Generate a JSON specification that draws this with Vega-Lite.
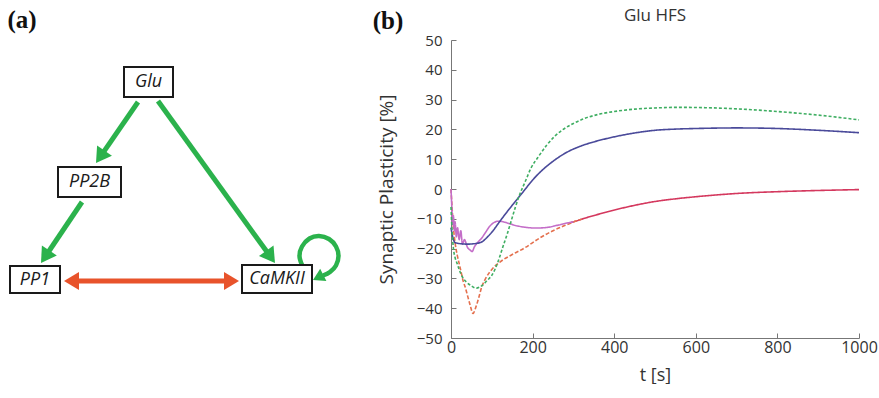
{
  "$schema": "https://vega.github.io/schema/vega-lite/v6.json",
  "background": "white",
  "padding": 0,
  "bounds": "flush",
  "spacing": 0,
  "config": {"view": {"stroke": null}, "font": "Open Sans"},
  "hconcat": [
    {
      "width": 451,
      "height": 298,
      "layer": [
        {
          "data": {"values": [{"x1": 0, "x2": 451, "y1": 0, "y2": 40}]},
          "mark": {"type": "rect", "fill": "white", "opacity": 0},
          "encoding": {
            "x": {"field": "x1", "type": "quantitative", "scale": {"domain": [0, 451], "nice": false, "zero": false}, "axis": null},
            "x2": {"field": "x2"},
            "y": {"field": "y1", "type": "quantitative", "scale": {"domain": [40, 338], "reverse": true, "nice": false, "zero": false}, "axis": null},
            "y2": {"field": "y2"}
          }
        },
        {
          "data": {"values": [
            {"id": "a1", "o": 0, "x": 138, "y": 102, "c": "#2bb24c"},
            {"id": "a1", "o": 1, "x": 102.8, "y": 153.1, "c": "#2bb24c"},
            {"id": "a2", "o": 0, "x": 158, "y": 101, "c": "#2bb24c"},
            {"id": "a2", "o": 1, "x": 268, "y": 253.3, "c": "#2bb24c"},
            {"id": "a3", "o": 0, "x": 82, "y": 202, "c": "#2bb24c"},
            {"id": "a3", "o": 1, "x": 47.7, "y": 253, "c": "#2bb24c"},
            {"id": "a4", "o": 0, "x": 76, "y": 281, "c": "#e8532b"},
            {"id": "a4", "o": 1, "x": 227, "y": 281, "c": "#e8532b"}
          ]},
          "mark": {"type": "line", "strokeWidth": 5, "strokeCap": "butt"},
          "encoding": {
            "x": {"field": "x", "type": "quantitative", "axis": null},
            "y": {"field": "y", "type": "quantitative", "axis": null},
            "detail": {"field": "id"},
            "order": {"field": "o", "type": "quantitative"},
            "color": {"field": "c", "type": "nominal", "scale": null}
          }
        },
        {
          "data": {"values": [
            {"o": 0, "x": 302, "y": 265},
            {"o": 1, "x": 299.5, "y": 256},
            {"o": 2, "x": 302, "y": 246.5},
            {"o": 3, "x": 309.5, "y": 238.5},
            {"o": 4, "x": 319, "y": 236},
            {"o": 5, "x": 329, "y": 239},
            {"o": 6, "x": 336, "y": 246.5},
            {"o": 7, "x": 338.5, "y": 256},
            {"o": 8, "x": 336, "y": 265.5},
            {"o": 9, "x": 330, "y": 272},
            {"o": 10, "x": 323, "y": 275.5}
          ]},
          "mark": {"type": "line", "strokeWidth": 4.5, "color": "#2bb24c", "interpolate": "cardinal", "strokeCap": "butt"},
          "encoding": {
            "x": {"field": "x", "type": "quantitative", "axis": null},
            "y": {"field": "y", "type": "quantitative", "axis": null},
            "order": {"field": "o", "type": "quantitative"}
          }
        },
        {
          "data": {"values": [
            {"x": 96, "y": 163, "ang": 124.6, "c": "#2bb24c", "sz": 900},
            {"x": 275, "y": 263, "ang": 54.2, "c": "#2bb24c", "sz": 900},
            {"x": 41, "y": 263, "ang": 123.9, "c": "#2bb24c", "sz": 900},
            {"x": 64, "y": 281, "ang": 180, "c": "#e8532b", "sz": 900},
            {"x": 239, "y": 281, "ang": 0, "c": "#e8532b", "sz": 900},
            {"x": 313, "y": 280, "ang": 153.4, "c": "#2bb24c", "sz": 529}
          ]},
          "mark": {"type": "point", "filled": true, "opacity": 1, "strokeWidth": 0, "shape": "M0,0L-1,-0.6L-1,0.6Z"},
          "encoding": {
            "x": {"field": "x", "type": "quantitative", "axis": null},
            "y": {"field": "y", "type": "quantitative", "axis": null},
            "angle": {"field": "ang", "type": "quantitative", "scale": null},
            "size": {"field": "sz", "type": "quantitative", "scale": null},
            "color": {"field": "c", "type": "nominal", "scale": null}
          }
        },
        {
          "data": {"values": [
            {"label": "Glu", "x1": 124, "x2": 173, "y1": 67, "y2": 97, "cx": 148.5, "cy": 82},
            {"label": "PP2B", "x1": 58, "x2": 121, "y1": 167, "y2": 197, "cx": 89.5, "cy": 182},
            {"label": "PP1", "x1": 10, "x2": 60, "y1": 266, "y2": 293, "cx": 35, "cy": 279.5},
            {"label": "CaMKII", "x1": 242, "x2": 312, "y1": 265, "y2": 293, "cx": 277, "cy": 279}
          ]},
          "layer": [
            {
              "mark": {"type": "rect", "fill": "white", "stroke": "#1a1a1a", "strokeWidth": 2},
              "encoding": {
                "x": {"field": "x1", "type": "quantitative", "axis": null},
                "x2": {"field": "x2"},
                "y": {"field": "y1", "type": "quantitative", "axis": null},
                "y2": {"field": "y2"}
              }
            },
            {
              "mark": {"type": "text", "font": "Open Sans", "fontStyle": "italic", "fontSize": 18, "color": "#1a1a1a", "baseline": "middle", "align": "center"},
              "encoding": {
                "x": {"field": "cx", "type": "quantitative", "axis": null},
                "y": {"field": "cy", "type": "quantitative", "axis": null},
                "text": {"field": "label"}
              }
            }
          ]
        },
        {
          "data": {"values": [
            {"t": "(a)", "x": 22, "y": 20},
            {"t": "(b)", "x": 388, "y": 21}
          ]},
          "mark": {"type": "text", "font": "Liberation Serif", "fontWeight": "bold", "fontSize": 25, "color": "#111", "baseline": "middle", "align": "center"},
          "encoding": {
            "x": {"field": "x", "type": "quantitative", "axis": null},
            "y": {"field": "y", "type": "quantitative", "axis": null},
            "text": {"field": "t"}
          }
        }
      ]
    },
    {
      "width": 408,
      "height": 298,
      "title": {"text": "Glu HFS", "fontSize": 17, "fontWeight": "normal", "font": "Open Sans", "color": "#333", "offset": 8},
      "data": {"values": [
        {"s": "c", "t": 290, "v": -11.4}, {"s": "c", "t": 300, "v": -11}, {"s": "c", "t": 340, "v": -9.3}, {"s": "c", "t": 380, "v": -7.8}, {"s": "c", "t": 420, "v": -6.4}, {"s": "c", "t": 460, "v": -5.2}, {"s": "c", "t": 500, "v": -4.2}, {"s": "c", "t": 550, "v": -3.3}, {"s": "c", "t": 600, "v": -2.6}, {"s": "c", "t": 650, "v": -2}, {"s": "c", "t": 700, "v": -1.5}, {"s": "c", "t": 800, "v": -0.9}, {"s": "c", "t": 900, "v": -0.5}, {"s": "c", "t": 1000, "v": -0.2},
        {"s": "r", "t": 0, "v": 0}, {"s": "r", "t": 3, "v": -7}, {"s": "r", "t": 6, "v": -13}, {"s": "r", "t": 10, "v": -18}, {"s": "r", "t": 15, "v": -22}, {"s": "r", "t": 20, "v": -25}, {"s": "r", "t": 25, "v": -28}, {"s": "r", "t": 30, "v": -31}, {"s": "r", "t": 35, "v": -33}, {"s": "r", "t": 40, "v": -35.5}, {"s": "r", "t": 47, "v": -39}, {"s": "r", "t": 54, "v": -41.8}, {"s": "r", "t": 60, "v": -40}, {"s": "r", "t": 68, "v": -36.5}, {"s": "r", "t": 75, "v": -33}, {"s": "r", "t": 85, "v": -30}, {"s": "r", "t": 100, "v": -27}, {"s": "r", "t": 120, "v": -24.5}, {"s": "r", "t": 150, "v": -22}, {"s": "r", "t": 180, "v": -19.8}, {"s": "r", "t": 218, "v": -16.4}, {"s": "r", "t": 250, "v": -14}, {"s": "r", "t": 280, "v": -12.2}, {"s": "r", "t": 300, "v": -11.1}, {"s": "r", "t": 320, "v": -10.1},
        {"s": "m", "t": 0, "v": 0}, {"s": "m", "t": 2, "v": -6}, {"s": "m", "t": 4, "v": -12}, {"s": "m", "t": 6, "v": -9}, {"s": "m", "t": 8, "v": -14}, {"s": "m", "t": 10, "v": -11}, {"s": "m", "t": 13, "v": -16}, {"s": "m", "t": 16, "v": -13}, {"s": "m", "t": 20, "v": -17}, {"s": "m", "t": 24, "v": -14}, {"s": "m", "t": 28, "v": -18.5}, {"s": "m", "t": 33, "v": -17}, {"s": "m", "t": 40, "v": -19.5}, {"s": "m", "t": 47, "v": -20.5}, {"s": "m", "t": 52, "v": -21}, {"s": "m", "t": 57, "v": -19.5}, {"s": "m", "t": 65, "v": -18}, {"s": "m", "t": 75, "v": -16.5}, {"s": "m", "t": 85, "v": -14.5}, {"s": "m", "t": 95, "v": -12.5}, {"s": "m", "t": 105, "v": -11.3}, {"s": "m", "t": 115, "v": -10.8}, {"s": "m", "t": 125, "v": -10.9}, {"s": "m", "t": 140, "v": -11.5}, {"s": "m", "t": 160, "v": -12.3}, {"s": "m", "t": 185, "v": -12.9}, {"s": "m", "t": 210, "v": -13.1}, {"s": "m", "t": 235, "v": -12.9}, {"s": "m", "t": 260, "v": -12.2}, {"s": "m", "t": 285, "v": -11.4}, {"s": "m", "t": 300, "v": -11},
        {"s": "b", "t": 0, "v": -13}, {"s": "b", "t": 5, "v": -16.5}, {"s": "b", "t": 10, "v": -18}, {"s": "b", "t": 20, "v": -18.3}, {"s": "b", "t": 40, "v": -18.5}, {"s": "b", "t": 60, "v": -18.3}, {"s": "b", "t": 75, "v": -17.8}, {"s": "b", "t": 90, "v": -16}, {"s": "b", "t": 100, "v": -14.5}, {"s": "b", "t": 120, "v": -10.8}, {"s": "b", "t": 140, "v": -7.2}, {"s": "b", "t": 160, "v": -3.8}, {"s": "b", "t": 180, "v": -0.4}, {"s": "b", "t": 200, "v": 3}, {"s": "b", "t": 225, "v": 6.5}, {"s": "b", "t": 250, "v": 9.3}, {"s": "b", "t": 270, "v": 11.2}, {"s": "b", "t": 292, "v": 12.9}, {"s": "b", "t": 320, "v": 14.5}, {"s": "b", "t": 350, "v": 15.8}, {"s": "b", "t": 400, "v": 17.5}, {"s": "b", "t": 450, "v": 18.8}, {"s": "b", "t": 500, "v": 19.7}, {"s": "b", "t": 550, "v": 20.1}, {"s": "b", "t": 600, "v": 20.3}, {"s": "b", "t": 700, "v": 20.5}, {"s": "b", "t": 800, "v": 20.3}, {"s": "b", "t": 900, "v": 19.7}, {"s": "b", "t": 1000, "v": 18.9},
        {"s": "g", "t": 0, "v": -6}, {"s": "g", "t": 3, "v": -15}, {"s": "g", "t": 6, "v": -20}, {"s": "g", "t": 10, "v": -23}, {"s": "g", "t": 15, "v": -25}, {"s": "g", "t": 20, "v": -27}, {"s": "g", "t": 30, "v": -30}, {"s": "g", "t": 40, "v": -31.5}, {"s": "g", "t": 50, "v": -32.5}, {"s": "g", "t": 61, "v": -33.3}, {"s": "g", "t": 75, "v": -32.5}, {"s": "g", "t": 90, "v": -30.5}, {"s": "g", "t": 100, "v": -29}, {"s": "g", "t": 115, "v": -24.5}, {"s": "g", "t": 127, "v": -19.5}, {"s": "g", "t": 138, "v": -15}, {"s": "g", "t": 148, "v": -10.5}, {"s": "g", "t": 158, "v": -6}, {"s": "g", "t": 168, "v": -2}, {"s": "g", "t": 182, "v": 2.5}, {"s": "g", "t": 196, "v": 7}, {"s": "g", "t": 215, "v": 11}, {"s": "g", "t": 235, "v": 14.8}, {"s": "g", "t": 255, "v": 17.8}, {"s": "g", "t": 275, "v": 20}, {"s": "g", "t": 300, "v": 22}, {"s": "g", "t": 330, "v": 23.8}, {"s": "g", "t": 360, "v": 25}, {"s": "g", "t": 400, "v": 26}, {"s": "g", "t": 450, "v": 26.8}, {"s": "g", "t": 500, "v": 27.2}, {"s": "g", "t": 560, "v": 27.4}, {"s": "g", "t": 620, "v": 27.3}, {"s": "g", "t": 700, "v": 26.9}, {"s": "g", "t": 800, "v": 26}, {"s": "g", "t": 900, "v": 24.8}, {"s": "g", "t": 1000, "v": 23.2}
      ]},
      "mark": {"type": "line", "strokeWidth": 1.6, "interpolate": "monotone"},
      "encoding": {
        "x": {
          "field": "t", "type": "quantitative",
          "scale": {"domain": [0, 1000], "nice": false},
          "axis": {"values": [0, 200, 400, 600, 800, 1000], "format": "d", "title": "t [s]", "grid": false, "labelFontSize": 16, "titleFontSize": 18, "titleFontWeight": "normal", "labelFont": "Open Sans", "titleFont": "Open Sans", "labelColor": "#333", "titleColor": "#333", "domainColor": "#777", "tickColor": "#777", "tickSize": -5, "labelPadding": 6, "titlePadding": 11, "labelFlush": false, "labelOverlap": false}
        },
        "y": {
          "field": "v", "type": "quantitative",
          "scale": {"domain": [-50, 50], "nice": false},
          "axis": {"values": [-50, -40, -30, -20, -10, 0, 10, 20, 30, 40, 50], "title": "Synaptic Plasticity [%]", "grid": false, "labelFontSize": 15, "titleFontSize": 19, "titleFontWeight": "normal", "labelFont": "Open Sans", "titleFont": "Open Sans", "labelColor": "#333", "titleColor": "#333", "domainColor": "#777", "tickColor": "#777", "tickSize": -5, "labelPadding": 14, "titlePadding": 20, "labelFlush": false, "labelOverlap": false}
        },
        "color": {"field": "s", "type": "nominal", "scale": {"domain": ["c", "r", "m", "b", "g"], "range": ["#d4385e", "#e4704e", "#c46ec8", "#4a4a9a", "#3fae62"]}, "legend": null},
        "strokeDash": {"field": "s", "type": "nominal", "scale": {"domain": ["c", "r", "m", "b", "g"], "range": [[1, 0], [4, 2], [1, 0], [1, 0], [3, 2]]}, "legend": null}
      }
    }
  ]
}
